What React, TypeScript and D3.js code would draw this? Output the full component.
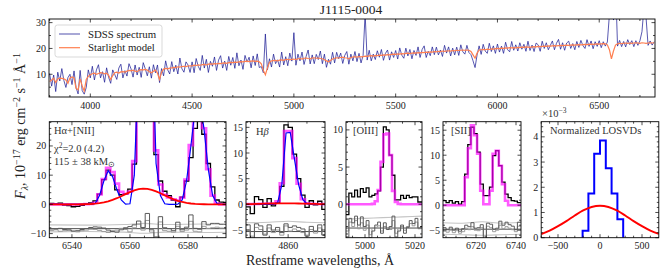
import * as d3 from 'd3';
import type { ReactNode } from 'react';

const FONT = "'Liberation Serif', 'Times New Roman', serif";

// ---- full SDSS spectrum (10 A grid from 3800 A) ----
const specStart = 3800;
const specStep = 10;
const sdssFlux = [
  10.3, 5.4, 9.7, 3.3, 10.8, 7.4, 12.2, 7.6, 4.9, 8.7,
  10.0, 6.0, 11.3, 4.8, 2.4, 11.5, 3.7, 2.3, 4.9, 11.7,
  8.6, 13.1, 7.8, 11.7, 13.7, 8.6, 11.0, 6.9, 12.5, 8.8,
  6.5, 11.7, 9.9, 8.0, 12.4, 13.9, 8.6, 11.4, 9.3, 14.1,
  12.1, 8.9, 13.6, 9.7, 12.7, 8.8, 14.5, 12.1, 9.4, 12.9,
  8.5, 13.7, 10.6, 13.6, 6.8, 12.2, 9.4, 15.2, 11.7, 10.1,
  14.9, 11.0, 13.5, 10.1, 16.3, 12.1, 10.8, 14.8, 13.6, 10.7,
  14.8, 10.6, 16.1, 13.1, 11.5, 17.3, 12.4, 15.8, 10.7, 15.0,
  13.1, 16.7, 11.5, 15.5, 17.2, 12.4, 15.1, 11.5, 16.9, 13.5,
  16.5, 12.3, 18.3, 13.3, 15.5, 11.9, 17.3, 14.7, 16.6, 12.5,
  17.1, 13.4, 17.9, 12.6, 13.0, 10.6, 25.6, 11.7, 16.0, 12.8,
  17.8, 14.1, 15.6, 12.8, 18.6, 13.6, 16.8, 13.3, 18.2, 15.1,
  26.1, 13.5, 17.8, 15.2, 18.6, 13.8, 16.9, 19.4, 14.0, 17.5,
  14.1, 17.7, 15.7, 19.0, 14.1, 17.8, 12.7, 15.8, 13.9, 18.5,
  14.4, 18.5, 16.0, 18.2, 14.2, 17.3, 18.8, 13.9, 17.8, 15.2,
  18.8, 14.9, 18.1, 14.4, 17.3, 33.5, 15.5, 19.3, 15.2, 17.8,
  15.7, 19.1, 16.6, 19.6, 15.4, 18.1, 19.4, 15.5, 18.7, 16.5,
  19.2, 15.9, 20.2, 17.4, 16.2, 20.1, 17.1, 19.6, 16.0, 19.2,
  17.3, 20.6, 16.5, 19.6, 21.0, 16.5, 18.9, 17.2, 20.6, 17.6,
  20.5, 17.5, 19.4, 16.9, 21.2, 18.2, 20.6, 17.1, 20.1, 17.5,
  20.5, 17.3, 21.4, 18.7, 17.8, 21.2, 18.4, 17.6, 15.2, 12.6,
  17.5, 21.0, 17.7, 21.6, 19.0, 18.1, 22.0, 18.8, 21.0, 18.1,
  21.7, 18.6, 20.9, 18.1, 22.4, 19.5, 18.7, 22.7, 19.3, 21.4,
  19.0, 22.2, 19.7, 21.6, 18.9, 22.8, 19.2, 21.3, 18.8, 22.1,
  21.4, 18.9, 22.8, 20.0, 22.2, 19.5, 21.2, 22.9, 19.5, 22.0,
  23.5, 19.7, 22.2, 19.3, 22.1, 22.8, 20.0, 21.9, 19.5, 22.7,
  20.4, 23.1, 21.1, 20.0, 23.4, 20.8, 22.9, 19.9, 22.6, 20.8,
  23.0, 20.3, 22.6, 20.9, 22.5, 33.0, 70.0, 31.0, 45.0, 20.9,
  23.1, 20.7, 22.7, 20.6, 23.4, 21.5, 23.0, 20.7, 23.0, 21.2,
  23.0, 26.5, 36.0, 32.0, 21.2, 22.9, 21.3, 22.6,
];
const starlightFlux = [
  7.2, 7.8, 8.5, 6.8, 8.2, 8.5, 8.4, 8.2, 7.8, 6.5,
  8.6, 9.0, 8.6, 4.5, 4.0, 8.2, 5.5, 3.5, 8.0, 9.2,
  9.8, 10.2, 10.4, 10.0, 10.3, 10.6, 10.5, 10.2, 10.4, 9.6,
  8.0, 9.5, 10.6, 10.8, 10.5, 10.9, 11.0, 10.8, 11.2, 11.5,
  11.3, 11.6, 11.2, 11.0, 11.6, 11.8, 11.7, 11.9, 11.6, 11.0,
  10.6, 11.2, 11.6, 10.4, 8.0, 10.8, 12.0, 12.3, 12.1, 12.4,
  12.5, 12.7, 12.6, 12.9, 12.8, 13.0, 13.1, 13.0, 13.2, 13.3,
  13.2, 13.5, 13.4, 13.6, 13.5, 13.7, 13.8, 13.6, 13.9, 14.0,
  13.9, 14.1, 14.0, 14.2, 14.1, 14.3, 14.4, 14.2, 14.5, 14.6,
  14.5, 14.7, 14.6, 14.8, 14.9, 14.8, 15.0, 15.1, 14.9, 15.1,
  15.2, 15.0, 15.1, 14.8, 14.0, 11.5, 9.8, 12.5, 14.6, 15.2,
  15.3, 15.4, 15.2, 15.5, 15.6, 15.4, 15.7, 15.8, 15.6, 15.8,
  15.9, 15.7, 16.0, 16.1, 15.9, 16.2, 16.3, 16.1, 16.0, 16.3,
  16.4, 16.2, 16.3, 16.1, 16.0, 15.6, 15.2, 14.8, 15.3, 15.9,
  16.2, 16.4, 16.3, 16.5, 16.6, 16.4, 16.3, 16.0, 16.5, 16.7,
  16.8, 16.6, 16.9, 16.7, 16.8, 17.0, 16.9, 17.1, 17.2, 17.0,
  17.3, 17.2, 17.4, 17.3, 17.5, 17.4, 17.6, 17.5, 17.7, 17.8,
  17.7, 17.9, 17.8, 18.0, 17.9, 18.1, 18.2, 18.0, 18.2, 18.3,
  18.2, 18.4, 18.3, 18.5, 18.4, 18.6, 18.5, 18.7, 18.6, 18.8,
  18.7, 18.9, 18.8, 19.0, 18.9, 19.0, 19.1, 19.0, 19.2, 19.1,
  19.3, 19.2, 19.3, 19.4, 19.3, 19.4, 19.3, 18.8, 17.5, 16.2,
  18.2, 19.4, 19.5, 19.6, 19.5, 19.7, 19.6, 19.8, 19.7, 19.9,
  20.0, 19.9, 20.1, 20.0, 20.2, 20.1, 20.3, 20.2, 20.3, 20.2,
  20.4, 20.3, 20.5, 20.4, 20.6, 20.5, 20.4, 20.6, 20.7, 20.6,
  20.8, 20.7, 20.8, 20.9, 20.8, 21.0, 20.9, 21.0, 21.1, 21.0,
  21.1, 21.2, 21.1, 21.2, 21.3, 21.2, 21.3, 21.4, 21.3, 21.4,
  21.5, 21.4, 21.5, 21.6, 21.5, 21.6, 21.7, 21.6, 21.7, 21.8,
  21.7, 21.8, 21.9, 21.8, 21.4, 19.5, 16.0, 19.0, 21.3, 21.8,
  22.0, 21.9, 22.0, 22.1, 22.0, 22.1, 22.0, 22.1, 22.2, 22.1,
  22.0, 22.2, 22.1, 22.0, 22.1, 22.2, 22.1, 22.2,
];
const topXTicks = [4000, 4500, 5000, 5500, 6000, 6500];
const topYTicks = [10, 20, 30];

// ---- Halpha + [NII] window, 1.5 A bins ----
const haStart = 6532.25;
const haBin = 1.5;
const haObs = [0.3, 0.2, 0.4, -0.2, -0.4, -0.8, -0.7, -0.3, 0.2, 0.5, 1.2, 3.5, 8.5, 11.7, 10.0, 5.0, 3.3, 3.6, 5.2, 13.8, 42, 70, 75, 50, 17, 8, 4.5, 3.0, 1.5, -0.8, 2.5, 8.0, 16.0, 26.0, 33.0, 24.0, 14.0, 6.0, 1.5, 0.8, 0.7];
const haTotal = [0, 0, 0, 0, 0, 0.01, 0.02, 0.04, 0.08, 0.14, 0.56, 3.43, 8.69, 12.55, 11.03, 7.12, 4.3, 3.62, 4.41, 14.8, 55.2, 85.4, 90.3, 70, 18.5, 6.8, 3.28, 2.38, 1.75, 1.33, 2.32, 8.52, 20.3, 33.2, 36.1, 26.05, 12.03, 3.01, 0.31, 0, 0];
const haNarrow = [0, 0, 0, 0, 0, 0, 0, 0, 0, 0, 0.3, 3, 8, 11.5, 9.5, 5, 1.5, 0.1, 0.2, 10, 50, 80, 85, 65, 14, 3, 0.2, 0, 0, 0.1, 1.5, 8, 20, 33, 36, 26, 12, 3, 0.3, 0, 0];
const haBroad = [0, 0, 0, 0, 0, 0.01, 0.02, 0.04, 0.08, 0.14, 0.26, 0.43, 0.69, 1.05, 1.53, 2.12, 2.8, 3.52, 4.21, 4.8, 5.21, 5.4, 5.32, 4.99, 4.46, 3.8, 3.08, 2.38, 1.75, 1.23, 0.82, 0.52, 0.31, 0.18, 0.1, 0.05, 0.03, 0.01, 0.01, 0, 0];
const haResid = [-8.4, -8.4, -8.2, -8.6, -8.8, -9.1, -9.0, -8.6, -8.3, -7.9, -7.7, -7.8, -8.1, -8.8, -9.3, -9.5, -8.7, -8.0, -7.6, -7.0, -5.7, -7.9, -3.1, -8.7, -12.5, -4.2, -8.0, -8.3, -9.0, -6.1, -8.7, -7.8, -3.6, -8.2, -8.5, -5.9, -7.0, -6.5, -6.5, -6.8, -6.8];
const haResid2 = [-8.9, -8.7, -9.2, -9.0, -8.6, -9.3, -9.4, -9.0, -8.8, -8.5, -8.6, -8.9, -9.3, -9.6, -9.0, -8.8, -8.2, -8.6, -9.4, -8.0, -6.8, -8.8, -5.5, -9.5, -11.0, -6.0, -9.0, -9.2, -9.5, -7.5, -9.3, -8.8, -5.8, -9.2, -9.4, -7.5, -8.2, -8.0, -7.8, -8.1, -8.1];
const haErrWave = [6532, 6545, 6558, 6565, 6572, 6585, 6594];
const haErrHi = [-7.0, -7.1, -6.9, -6.5, -6.9, -6.7, -6.8];
const haErrLo = [-9.4, -9.3, -9.5, -9.9, -9.5, -9.6, -9.5];
const haZero = -8.3;

// ---- Hbeta window, 1.12 A bins ----
const hbStart = 4848.8;
const hbBin = 1.12;
const hbObs = [-0.5, -1.8, 1.5, 0.9, -0.6, 1.1, -0.3, 0.3, 3.5, 15.5, 15.0, 9.8, 5.0, 1.8, -0.6, 0.7, -0.1, 0.6, -1.0];
const hbTotal = [0.05, 0.06, 0.08, 0.1, 0.12, 0.14, 0.16, 0.6, 4.1, 14.3, 14.3, 9.0, 4.0, 1.0, 0.2, 0.1, 0.08, 0.06, 0.05];
const hbNarrow = [0, 0, 0, 0, 0, 0, 0, 0.3, 3.8, 13.9, 14.0, 8.8, 3.8, 0.9, 0.1, 0, 0, 0, 0];
const hbBroad = [0.05, 0.06, 0.08, 0.1, 0.12, 0.14, 0.16, 0.17, 0.18, 0.18, 0.18, 0.17, 0.16, 0.14, 0.12, 0.1, 0.08, 0.06, 0.05];
const hbResid = [-4.0, -6.6, -3.8, -4.2, -6.0, -4.0, -5.0, -4.5, -5.5, -3.8, -4.5, -4.2, -4.5, -4.8, -6.2, -4.3, -5.2, -4.0, -6.0];
const hbResid2 = [-5.0, -6.2, -4.5, -4.9, -5.8, -4.6, -5.5, -5.0, -6.0, -4.2, -5.2, -4.8, -5.1, -5.5, -6.0, -4.9, -5.6, -4.6, -5.9];
const hbErrWave = [4848, 4855, 4860, 4865, 4871];
const hbErrHi = [-3.6, -3.5, -3.3, -3.5, -3.6];
const hbErrLo = [-6.6, -6.7, -6.9, -6.7, -6.6];
const hbZero = -5.3;

// ---- [OIII] window, 1.15 A bins ----
const oStart = 4992.4;
const oBin = 1.15;
const oObs = [-1.4, 1.5, 1.0, 1.9, 1.0, 2.1, 1.6, 2.2, 1.0, 1.2, 1.4, 1.8, 5.0, 10.4, 10.0, 6.6, 3.9, 0.6, 0.6, 1.2, 0.8, 1.2, 0.9, 1.0, 1.0, 0.3, 0.3];
const oTotal = [0, 0, 0, 0, 0, 0, 0, 0, 0, 0.05, 0.4, 1.9, 5.7, 9.4, 9.5, 6.6, 1.8, 0.3, 0.05, 0, 0, 0, 0, 0, 0, 0, 0];
const oResid = [-4.4, -1.9, -2.5, -1.6, -2.8, -1.7, -3.0, -2.2, -4.5, -3.6, -2.8, -2.4, -3.9, -2.5, -3.4, -3.0, -1.6, -4.4, -3.6, -2.8, -3.9, -3.1, -2.2, -2.6, -1.9, -3.2, -3.0];
const oResid2 = [-3.6, -2.4, -3.0, -2.2, -3.3, -2.5, -3.5, -2.8, -4.1, -3.2, -3.1, -2.9, -3.6, -3.0, -3.2, -3.4, -2.2, -3.9, -3.3, -3.0, -3.5, -3.0, -2.6, -2.9, -2.4, -3.3, -3.1];
const oErrWave = [4992, 5000, 5007, 5015, 5023];
const oErrHi = [-2.0, -1.9, -1.8, -1.7, -1.6];
const oErrLo = [-4.4, -4.5, -4.6, -4.5, -4.4];
const oZero = -3.2;

// ---- [SII] window, 1.55 A bins ----
const sStart = 6703.5;
const sBin = 1.55;
const sObs = [0.9, 0.5, 0.9, 0.4, 0.7, 0.2, 0.7, 6.2, 12.1, 15.6, 14.3, 10.6, 4.2, 1.9, 1.9, 3.6, 9.9, 10.9, 7.9, 4.6, 2.2, 1.5, 0.9, 0.8, 0.5, 0.5];
const sTotal = [0, 0, 0, 0, 0, 0, 0, 5.6, 11.4, 16, 14, 10.3, 2.9, 0.2, 0.2, 2.9, 10.3, 10.9, 7.9, 4.2, 0.9, 0, 0, 0, 0, 0];
const sResid = [-4.5, -4.9, -4.4, -5.0, -4.6, -5.2, -4.7, -4.0, -4.3, -3.5, -4.6, -4.5, -3.9, -6.8, -3.6, -3.8, -4.8, -4.6, -3.2, -4.0, -3.4, -3.9, -4.2, -4.9, -3.4, -3.4];
const sResid2 = [-5.2, -5.4, -5.0, -5.5, -5.1, -5.6, -5.3, -4.6, -4.9, -4.3, -5.0, -5.1, -4.5, -6.2, -4.2, -4.5, -5.3, -5.0, -4.0, -4.7, -4.3, -4.6, -4.9, -5.3, -4.2, -4.2];
const sErrWave = [6703, 6713, 6723, 6733, 6743];
const sErrHi = [-3.5, -3.6, -3.3, -3.6, -3.4];
const sErrLo = [-5.8, -5.9, -6.0, -5.9, -5.8];
const sZero = -4.8;

// ---- LOSVDs (x 1e-3) ----
const losvdEdges = [-207, -138, -69, 0, 69, 138, 207, 276];
const losvdNarrow = [0.28, 1.75, 3.33, 3.85, 2.75, 1.75, 0.73];
const losvdVel = [-700, -600, -500, -400, -300, -200, -100, 0, 100, 200, 300, 400, 500, 600, 700];
const losvdBroad = [0.14, 0.28, 0.46, 0.66, 0.88, 1.08, 1.22, 1.27, 1.22, 1.08, 0.88, 0.66, 0.46, 0.28, 0.15];

type Pt = [number, number];
type Sc = d3.ScaleLinear<number, number>;

const fmt = (v: number) => (v < 0 ? '\u2212' + Math.abs(v) : String(v));

function steps(start: number, width: number, vals: number[]): Pt[] {
  const pts: Pt[] = [];
  vals.forEach((v, i) => {
    pts.push([start + i * width, v]);
    pts.push([start + (i + 1) * width, v]);
  });
  return pts;
}

function centers(start: number, width: number, vals: number[]): Pt[] {
  return vals.map((v, i) => [start + (i + 0.5) * width, v] as Pt);
}

function pathOf(x: Sc, y: Sc, pts: Pt[], curve: d3.CurveFactory = d3.curveLinear) {
  return (
    d3
      .line<Pt>()
      .x((d) => x(d[0]))
      .y((d) => y(d[1]))
      .curve(curve)(pts) || ''
  );
}

type PanelProps = {
  id: string;
  left: number;
  right: number;
  top: number;
  bottom: number;
  xDomain: [number, number];
  yDomain: [number, number];
  xTicks: number[];
  xMinor: number;
  yTicks: number[];
  yMinor: number;
  draw: (x: Sc, y: Sc) => ReactNode;
};

function Panel(p: PanelProps) {
  const x = d3.scaleLinear().domain(p.xDomain).range([p.left, p.right]);
  const y = d3.scaleLinear().domain(p.yDomain).range([p.bottom, p.top]);
  const minor = (dom: [number, number], step: number, major: number[]) =>
    d3
      .range(Math.ceil(dom[0] / step) * step, dom[1], step)
      .filter((v) => !major.some((m) => Math.abs(m - v) < step / 10));
  const xm = minor(p.xDomain, p.xMinor, p.xTicks);
  const ym = minor(p.yDomain, p.yMinor, p.yTicks);
  return (
    <g>
      <clipPath id={p.id}>
        <rect x={p.left} y={p.top} width={p.right - p.left} height={p.bottom - p.top} />
      </clipPath>
      <g clipPath={`url(#${p.id})`}>{p.draw(x, y)}</g>
      <rect x={p.left} y={p.top} width={p.right - p.left} height={p.bottom - p.top} fill="none" stroke="#000" strokeWidth={0.9} />
      <g stroke="#000" strokeWidth={0.7}>
        {p.xTicks.map((t) => (
          <g key={'xt' + t}>
            <line x1={x(t)} x2={x(t)} y1={p.bottom} y2={p.bottom - 3.5} />
            <line x1={x(t)} x2={x(t)} y1={p.top} y2={p.top + 3.5} />
          </g>
        ))}
        {xm.map((t) => (
          <g key={'xm' + t}>
            <line x1={x(t)} x2={x(t)} y1={p.bottom} y2={p.bottom - 2} />
            <line x1={x(t)} x2={x(t)} y1={p.top} y2={p.top + 2} />
          </g>
        ))}
        {p.yTicks.map((t) => (
          <g key={'yt' + t}>
            <line x1={p.left} x2={p.left + 3.5} y1={y(t)} y2={y(t)} />
            <line x1={p.right} x2={p.right - 3.5} y1={y(t)} y2={y(t)} />
          </g>
        ))}
        {ym.map((t) => (
          <g key={'ym' + t}>
            <line x1={p.left} x2={p.left + 2} y1={y(t)} y2={y(t)} />
            <line x1={p.right} x2={p.right - 2} y1={y(t)} y2={y(t)} />
          </g>
        ))}
      </g>
      <g fontFamily={FONT} fontSize={10} fill="#222">
        {p.xTicks.map((t) => (
          <text key={'xl' + t} x={x(t)} y={p.bottom + 11.5} textAnchor="middle">
            {fmt(t)}
          </text>
        ))}
        {p.yTicks.map((t) => (
          <text key={'yl' + t} x={p.left - 3} y={y(t) + 3.5} textAnchor="end">
            {fmt(t)}
          </text>
        ))}
      </g>
    </g>
  );
}

// residual block shared by the four line windows
function residuals(x: Sc, y: Sc, start: number, bin: number, r1: number[], r2: number[], ew: number[], hi: number[], lo: number[], zero: number) {
  const [d0, d1] = x.domain();
  return (
    <g fill="none">
      <path d={pathOf(x, y, ew.map((w, i) => [w, hi[i]] as Pt), d3.curveMonotoneX)} stroke="#c4c4c4" strokeWidth={1.1} />
      <path d={pathOf(x, y, ew.map((w, i) => [w, lo[i]] as Pt), d3.curveMonotoneX)} stroke="#c4c4c4" strokeWidth={1.1} />
      <path d={pathOf(x, y, [[d0, zero], [d1, zero]])} stroke="#3a3a3a" strokeWidth={0.9} />
      <path d={pathOf(x, y, steps(start, bin, r2))} stroke="#9a9a9a" strokeWidth={1} />
      <path d={pathOf(x, y, steps(start, bin, r1))} stroke="#5a5a5a" strokeWidth={1} />
    </g>
  );
}

function modelLine(x: Sc, start: number, bin: number, vals: number[]): Pt[] {
  const [d0, d1] = x.domain();
  const c = centers(start, bin, vals);
  return [[d0, vals[0]], ...c, [d1, vals[vals.length - 1]]];
}

function lineWindow(start: number, bin: number, obs: number[], total: number[], narrow: number[] | null, broad: number[] | null, r1: number[], r2: number[], ew: number[], hi: number[], lo: number[], zero: number) {
  return (x: Sc, y: Sc) => (
    <g fill="none">
      {residuals(x, y, start, bin, r1, r2, ew, hi, lo, zero)}
      <path d={pathOf(x, y, steps(start, bin, obs))} stroke="#000" strokeWidth={1.3} />
      <path d={pathOf(x, y, steps(start, bin, total))} stroke="#ff00ff" strokeWidth={2.6} strokeOpacity={0.65} />
      {narrow && <path d={pathOf(x, y, modelLine(x, start, bin, narrow))} stroke="#0000ff" strokeWidth={1.2} />}
      {broad && <path d={pathOf(x, y, modelLine(x, start, bin, broad))} stroke="#ff0000" strokeWidth={1.8} />}
    </g>
  );
}

export default function App() {
  const top = 121.7;
  const bottom = 237.7;
  const sdssPts = sdssFlux.map((v, i) => [specStart + i * specStep, v] as Pt);
  const starPts = starlightFlux.map((v, i) => [specStart + i * specStep, v] as Pt);

  return (
    <svg width={665} height={275} style={{ position: 'absolute', left: 0, top: 0, background: '#fff' }}>
      <text x={351} y={14} fontFamily={FONT} fontSize={13.5} textAnchor="middle" fill="#222">
        J1115-0004
      </text>

      <Panel
        id="cTop"
        left={49}
        right={655}
        top={19}
        bottom={97}
        xDomain={[3797, 6774]}
        yDomain={[1.2, 31.4]}
        xTicks={topXTicks}
        xMinor={100}
        yTicks={topYTicks}
        yMinor={5}
        draw={(x, y) => (
          <g fill="none">
            <path d={pathOf(x, y, sdssPts)} stroke="#1c1c94" strokeOpacity={0.82} strokeWidth={0.9} />
            <path d={pathOf(x, y, starPts)} stroke="#ff7f50" strokeWidth={1.2} />
          </g>
        )}
      />
      <g fontFamily={FONT} fontSize={10.8} fill="#222">
        <rect x={55} y={25} width={107} height={32} rx={2.5} fill="#fff" fillOpacity={0.85} stroke="#cfcfcf" strokeWidth={0.8} />
        <line x1={59} x2={80} y1={34} y2={34} stroke="#1c1c94" strokeOpacity={0.7} strokeWidth={1.1} />
        <line x1={59} x2={80} y1={47.7} y2={47.7} stroke="#ff7f50" strokeWidth={1.2} />
        <text x={88} y={37.5}>SDSS spectrum</text>
        <text x={88} y={51.2}>Starlight model</text>
      </g>

      <Panel
        id="cHa"
        left={49.3}
        right={226}
        top={top}
        bottom={bottom}
        xDomain={[6532.2, 6593.1]}
        yDomain={[-11.4, 28.3]}
        xTicks={[6540, 6560, 6580]}
        xMinor={5}
        yTicks={[-10, 0, 10, 20]}
        yMinor={2}
        draw={lineWindow(haStart, haBin, haObs, haTotal, haNarrow, haBroad, haResid, haResid2, haErrWave, haErrHi, haErrLo, haZero)}
      />
      <Panel
        id="cHb"
        left={246}
        right={325}
        top={top}
        bottom={bottom}
        xDomain={[4848.8, 4869.8]}
        yDomain={[-6.5, 16.1]}
        xTicks={[4860]}
        xMinor={5}
        yTicks={[-5, 0, 5, 10, 15]}
        yMinor={1}
        draw={lineWindow(hbStart, hbBin, hbObs, hbTotal, hbNarrow, hbBroad, hbResid, hbResid2, hbErrWave, hbErrHi, hbErrLo, hbZero)}
      />
      <Panel
        id="cO3"
        left={346}
        right={422}
        top={top}
        bottom={bottom}
        xDomain={[4992.4, 5022.8]}
        yDomain={[-4.5, 11.1]}
        xTicks={[5000, 5020]}
        xMinor={5}
        yTicks={[0, 5, 10]}
        yMinor={1}
        draw={lineWindow(oStart, oBin, oObs, oTotal, null, null, oResid, oResid2, oErrWave, oErrHi, oErrLo, oZero)}
      />
      <Panel
        id="cS2"
        left={443}
        right={521}
        top={top}
        bottom={bottom}
        xDomain={[6703.5, 6742.5]}
        yDomain={[-6.5, 16.7]}
        xTicks={[6720, 6740]}
        xMinor={5}
        yTicks={[-5, 0, 5, 10, 15]}
        yMinor={1}
        draw={lineWindow(sStart, sBin, sObs, sTotal, null, null, sResid, sResid2, sErrWave, sErrHi, sErrLo, sZero)}
      />
      <Panel
        id="cLos"
        left={541.2}
        right={658.8}
        top={top}
        bottom={bottom}
        xDomain={[-700, 700]}
        yDomain={[0, 4.6]}
        xTicks={[-500, 0, 500]}
        xMinor={100}
        yTicks={[0, 1, 2, 3, 4]}
        yMinor={0.2}
        draw={(x, y) => {
          const pts: Pt[] = [[losvdEdges[0], 0]];
          losvdNarrow.forEach((v, i) => {
            pts.push([losvdEdges[i], v]);
            pts.push([losvdEdges[i + 1], v]);
          });
          pts.push([losvdEdges[losvdEdges.length - 1], 0]);
          return (
            <g fill="none">
              <path d={pathOf(x, y, pts)} stroke="#0000ff" strokeWidth={2} />
              <path d={pathOf(x, y, losvdVel.map((v, i) => [v, losvdBroad[i]] as Pt), d3.curveMonotoneX)} stroke="#ff0000" strokeWidth={2} />
            </g>
          );
        }}
      />

      <g fontFamily={FONT} fontSize={10.5} fill="#333">
        <text x={54} y={134}>H{'\u03b1'}+[NII]</text>
        <text x={54} y={151.5}>
          {'\u03c7'}
          <tspan dy={-4} fontSize={7.5}>2</tspan>
          <tspan dy={4}>=2.0 (4.2)</tspan>
        </text>
        <text x={54} y={164.5}>
          115 {'\u00b1'} 38 kM
          <tspan dy={2.5} fontSize={7.5}>{'\u2299'}</tspan>
        </text>
        <text x={256} y={135}>
          H<tspan fontStyle="italic">{'\u03b2'}</tspan>
        </text>
        <text x={353} y={134}>[OIII]</text>
        <text x={451} y={134}>[SII]</text>
        <text x={550} y={134}>Normalized LOSVDs</text>
        <text x={542} y={117}>
          {'\u00d7'}10<tspan dy={-4} fontSize={7.5}>{'\u2212'}3</tspan>
        </text>
      </g>

      <text x={320} y={265} fontFamily={FONT} fontSize={14} textAnchor="middle" fill="#222">
        Restframe wavelengths, {'\u00c5'}
      </text>
      <text transform="translate(25,126) rotate(-90)" fontFamily={FONT} fontSize={14} textAnchor="middle" fill="#222">
        <tspan fontStyle="italic">F</tspan>
        <tspan dy={3} fontSize={10} fontStyle="italic">{'\u03bb'}</tspan>
        <tspan dy={-3}>, 10</tspan>
        <tspan dy={-5} fontSize={10}>{'\u2212'}17</tspan>
        <tspan dy={5}> erg cm</tspan>
        <tspan dy={-5} fontSize={10}>{'\u2212'}2</tspan>
        <tspan dy={5}> s</tspan>
        <tspan dy={-5} fontSize={10}>{'\u2212'}1</tspan>
        <tspan dy={5}> {'\u00c5'}</tspan>
        <tspan dy={-5} fontSize={10}>{'\u2212'}1</tspan>
      </text>
    </svg>
  );
}
